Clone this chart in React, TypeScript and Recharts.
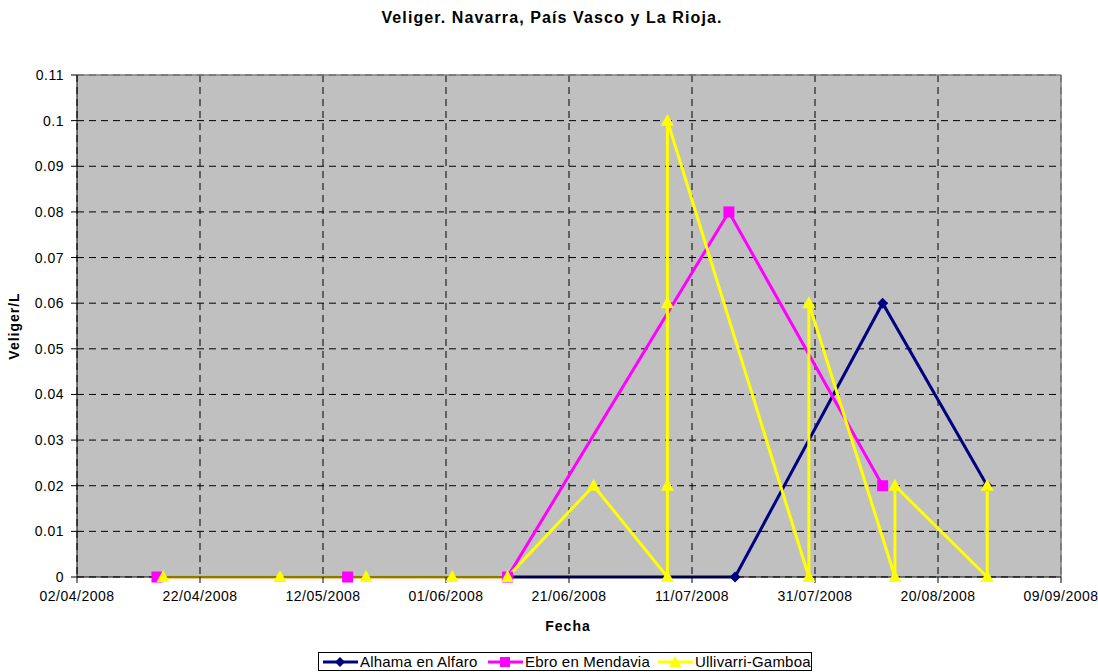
import React from 'react';
import {
  LineChart,
  Line,
  XAxis,
  YAxis,
  CartesianGrid,
  ReferenceLine,
} from 'recharts';

// dates (dd/mm/yyyy in the picture)
const ALHAMA_DATES = ['2008-06-11', '2008-07-18', '2008-08-11', '2008-08-28'];
const ALHAMA_VALUES = [0, 0, 0.06, 0.02];

const EBRO_DATES = ['2008-04-15', '2008-05-16', '2008-06-11', '2008-07-17', '2008-08-11'];
const EBRO_VALUES = [0, 0, 0, 0.08, 0.02];

const ULLIVARRI_DATES = [
  '2008-04-16', '2008-05-05', '2008-05-19', '2008-06-02', '2008-06-11', '2008-06-25',
  '2008-07-07', '2008-07-07', '2008-07-07', '2008-07-07',
  '2008-07-30', '2008-07-30', '2008-08-13', '2008-08-13', '2008-08-28', '2008-08-28',
];
const ULLIVARRI_VALUES = [0, 0, 0, 0, 0, 0.02, 0, 0.02, 0.06, 0.1, 0, 0.06, 0, 0.02, 0, 0.02];

const X_TICKS = [
  '2008-04-02', '2008-04-22', '2008-05-12', '2008-06-01', '2008-06-21',
  '2008-07-11', '2008-07-31', '2008-08-20', '2008-09-09',
];
const Y_TICKS = [0, 0.01, 0.02, 0.03, 0.04, 0.05, 0.06, 0.07, 0.08, 0.09, 0.1, 0.11];

const FONT = '"Liberation Sans", Arial, sans-serif';
const NAVY = '#000080';
const MAGENTA = '#FF00FF';
const YELLOW = '#FFFF00';

function toTime(s: string) {
  const [y, m, d] = s.split('-').map(Number);
  return Date.UTC(y, m - 1, d);
}

function fmtDate(t: number) {
  const d = new Date(t);
  const dd = String(d.getUTCDate()).padStart(2, '0');
  const mm = String(d.getUTCMonth() + 1).padStart(2, '0');
  return `${dd}/${mm}/${d.getUTCFullYear()}`;
}

function build(dates: string[], values: number[]) {
  return dates.map((d, i) => ({ x: toTime(d), y: values[i] }));
}

const alhama = build(ALHAMA_DATES, ALHAMA_VALUES);
const ebro = build(EBRO_DATES, EBRO_VALUES);
const ullivarri = build(ULLIVARRI_DATES, ULLIVARRI_VALUES);
const xTicks = X_TICKS.map(toTime);

const Diamond = (props: any) => {
  const { cx, cy, key } = props;
  if (cx == null || cy == null) return null;
  const r = 5.5;
  return (
    <path key={key} d={`M${cx},${cy - r}L${cx + r},${cy}L${cx},${cy + r}L${cx - r},${cy}Z`} fill={NAVY} />
  );
};

const Square = (props: any) => {
  const { cx, cy, key } = props;
  if (cx == null || cy == null) return null;
  return <rect key={key} x={cx - 5.5} y={cy - 5.5} width={11} height={11} fill={MAGENTA} />;
};

const Triangle = (props: any) => {
  const { cx, cy, key } = props;
  if (cx == null || cy == null) return null;
  return (
    <path key={key} d={`M${cx},${cy - 7}L${cx + 6.5},${cy + 5}L${cx - 6.5},${cy + 5}Z`} fill={YELLOW} />
  );
};

function LegendItem({ left, color, marker, label }: { left: number; color: string; marker: string; label: string }) {
  return (
    <div style={{ position: 'absolute', left, top: 0, height: 17, display: 'flex', alignItems: 'center' }}>
      <svg width={37} height={14}>
        <line x1={1} y1={7} x2={36} y2={7} stroke={color} strokeWidth={3} />
        {marker === 'diamond' && <path d="M18,2L23,7L18,12L13,7Z" fill={color} />}
        {marker === 'square' && <rect x={13} y={2} width={10} height={10} fill={color} />}
        {marker === 'triangle' && <path d="M18,1L24,12L12,12Z" fill={color} />}
      </svg>
      <span style={{ marginLeft: 1 }}>{label}</span>
    </div>
  );
}

export default function App() {
  const tickStyle = { fontSize: 14, fill: '#000', fontFamily: FONT, letterSpacing: 0.5 };
  return (
    <div
      style={{
        position: 'absolute',
        left: 0,
        top: 0,
        width: 1098,
        height: 672,
        background: '#fff',
        fontFamily: FONT,
      }}
    >
      <div
        style={{
          position: 'absolute',
          top: 9,
          left: 3,
          width: 1098,
          textAlign: 'center',
          fontWeight: 'bold',
          fontSize: 16,
          letterSpacing: 1.1,
        }}
      >
        Veliger. Navarra, País Vasco y La Rioja.
      </div>

      <LineChart width={1098} height={672} margin={{ top: 75, right: 37, bottom: 65, left: 17 }}>
        <CartesianGrid stroke="#000" strokeDasharray="7 5" fill="#C0C0C0" fillOpacity={1} />
        <XAxis
          type="number"
          dataKey="x"
          domain={[xTicks[0], xTicks[xTicks.length - 1]]}
          ticks={xTicks}
          tickFormatter={(v) => fmtDate(Number(v))}
          allowDataOverflow
          height={30}
          stroke="#000"
          tickSize={6}
          tickMargin={8}
          tick={tickStyle}
          interval={0}
        />
        <YAxis
          type="number"
          dataKey="y"
          domain={[0, 0.11]}
          ticks={Y_TICKS}
          tickFormatter={(v) => String(Number(Number(v).toFixed(2)))}
          width={60}
          stroke="#000"
          tickSize={6}
          tickMargin={7}
          tick={tickStyle}
          interval={0}
        />
        <ReferenceLine y={0.11} stroke="#808080" strokeWidth={1.5} />
        <ReferenceLine x={xTicks[xTicks.length - 1]} stroke="#808080" strokeWidth={1.5} />
        <Line
          data={alhama}
          dataKey="y"
          type="linear"
          stroke={NAVY}
          strokeWidth={3}
          dot={Diamond}
          activeDot={false}
          isAnimationActive={false}
        />
        <Line
          data={ebro}
          dataKey="y"
          type="linear"
          stroke={MAGENTA}
          strokeWidth={3}
          dot={Square}
          activeDot={false}
          isAnimationActive={false}
        />
        <Line
          data={ullivarri}
          dataKey="y"
          type="linear"
          stroke={YELLOW}
          strokeWidth={3}
          dot={Triangle}
          activeDot={false}
          isAnimationActive={false}
        />
      </LineChart>

      <div
        style={{
          position: 'absolute',
          left: -34,
          top: 316,
          width: 100,
          height: 20,
          transform: 'rotate(-90deg)',
          textAlign: 'center',
          fontWeight: 'bold',
          fontSize: 14,
          letterSpacing: 1,
          whiteSpace: 'nowrap',
        }}
      >
        Veliger/L
      </div>

      <div
        style={{
          position: 'absolute',
          left: 468,
          top: 618,
          width: 200,
          textAlign: 'center',
          fontWeight: 'bold',
          fontSize: 14,
          letterSpacing: 1,
        }}
      >
        Fecha
      </div>

      <div
        style={{
          position: 'absolute',
          left: 318,
          top: 652,
          border: '1px solid #000',
          height: 19,
          width: 494,
          fontSize: 15,
          letterSpacing: 0.2,
          whiteSpace: 'nowrap',
          boxSizing: 'border-box',
        }}
      >
        <LegendItem left={3} color={NAVY} marker="diamond" label="Alhama en Alfaro" />
        <LegendItem left={168} color={MAGENTA} marker="square" label="Ebro en Mendavia" />
        <LegendItem left={338} color={YELLOW} marker="triangle" label="Ullivarri-Gamboa" />
      </div>
    </div>
  );
}
